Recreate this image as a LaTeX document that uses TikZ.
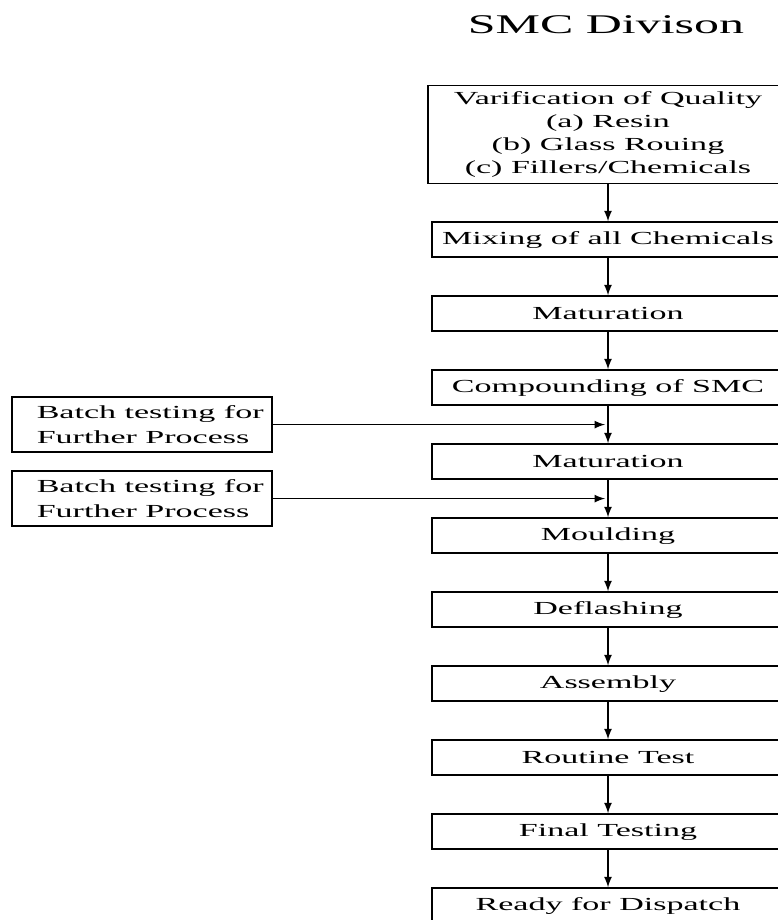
\documentclass[tikz,border=0pt]{standalone}
\usepackage{fontspec}
\setmainfont{Liberation Serif}[FakeStretch=1.85]
\usetikzlibrary{positioning,calc}

\begin{document}
\begin{tikzpicture}[>=latex]
  \tikzstyle{stage} = [draw, thick, fill=white, rectangle, minimum width=176pt, minimum height=17.5pt, inner sep=1pt, font={\fontsize{9.2}{11.5}\selectfont}];
  \tikzstyle{batchBox} = [stage, minimum width=130pt, minimum height=27.5pt, align=left, font={\fontsize{9.2}{12.5}\selectfont}];
  \tikzstyle{flowEdge} = [black, thick, ->];

  \useasboundingbox (0,0) rectangle (388.5pt,-460pt);

  \node[font={\fontsize{13.5}{16}\selectfont}, anchor=base] (title) at (303pt,-17pt) {SMC Divison};

  \node[stage, minimum width=180pt, minimum height=49pt, align=center] (V) at (304pt,-67.25pt)
    {Varification of Quality\\(a) Resin\\(b) Glass Rouing\\(c) Fillers/Chemicals};
  \node[stage] (M)  [below=18.5pt of V]  {Mixing of all Chemicals};
  \node[stage] (T1) [below=18.7pt of M]  {Maturation};
  \node[stage] (C)  [below=18.7pt of T1] {Compounding of SMC};
  \node[stage] (T2) [below=18.7pt of C]  {Maturation};
  \node[stage] (L)  [below=18.7pt of T2] {Moulding};
  \node[stage] (D)  [below=18.7pt of L]  {Deflashing};
  \node[stage] (A)  [below=18.7pt of D]  {Assembly};
  \node[stage] (R)  [below=18.7pt of A]  {Routine Test};
  \node[stage] (F)  [below=18.7pt of R]  {Final Testing};
  \node[stage] (P)  [below=18.7pt of F]  {Ready for Dispatch};

  % joins on the main line
  \coordinate (j1) at ($(C)!0.5!(T2)$);
  \coordinate (j2) at ($(T2)!0.5!(L)$);
  \node[batchBox] (B1) [left=167.5pt of j1] {\hspace*{8pt}Batch testing for\\\hspace*{8pt}Further Process};
  \node[batchBox] (B2) [left=167.5pt of j2] {\hspace*{8pt}Batch testing for\\\hspace*{8pt}Further Process};

  \path (V)  edge[flowEdge] (M)
        (M)  edge[flowEdge] (T1)
        (T1) edge[flowEdge] (C)
        (C)  edge[flowEdge] (T2)
        (T2) edge[flowEdge] (L)
        (L)  edge[flowEdge] (D)
        (D)  edge[flowEdge] (A)
        (A)  edge[flowEdge] (R)
        (R)  edge[flowEdge] (F)
        (F)  edge[flowEdge] (P);

  \draw[flowEdge, shorten >=1.5pt] (B1) -- (j1);
  \draw[flowEdge, shorten >=1.5pt] (B2) -- (j2);
\end{tikzpicture}
\end{document}
